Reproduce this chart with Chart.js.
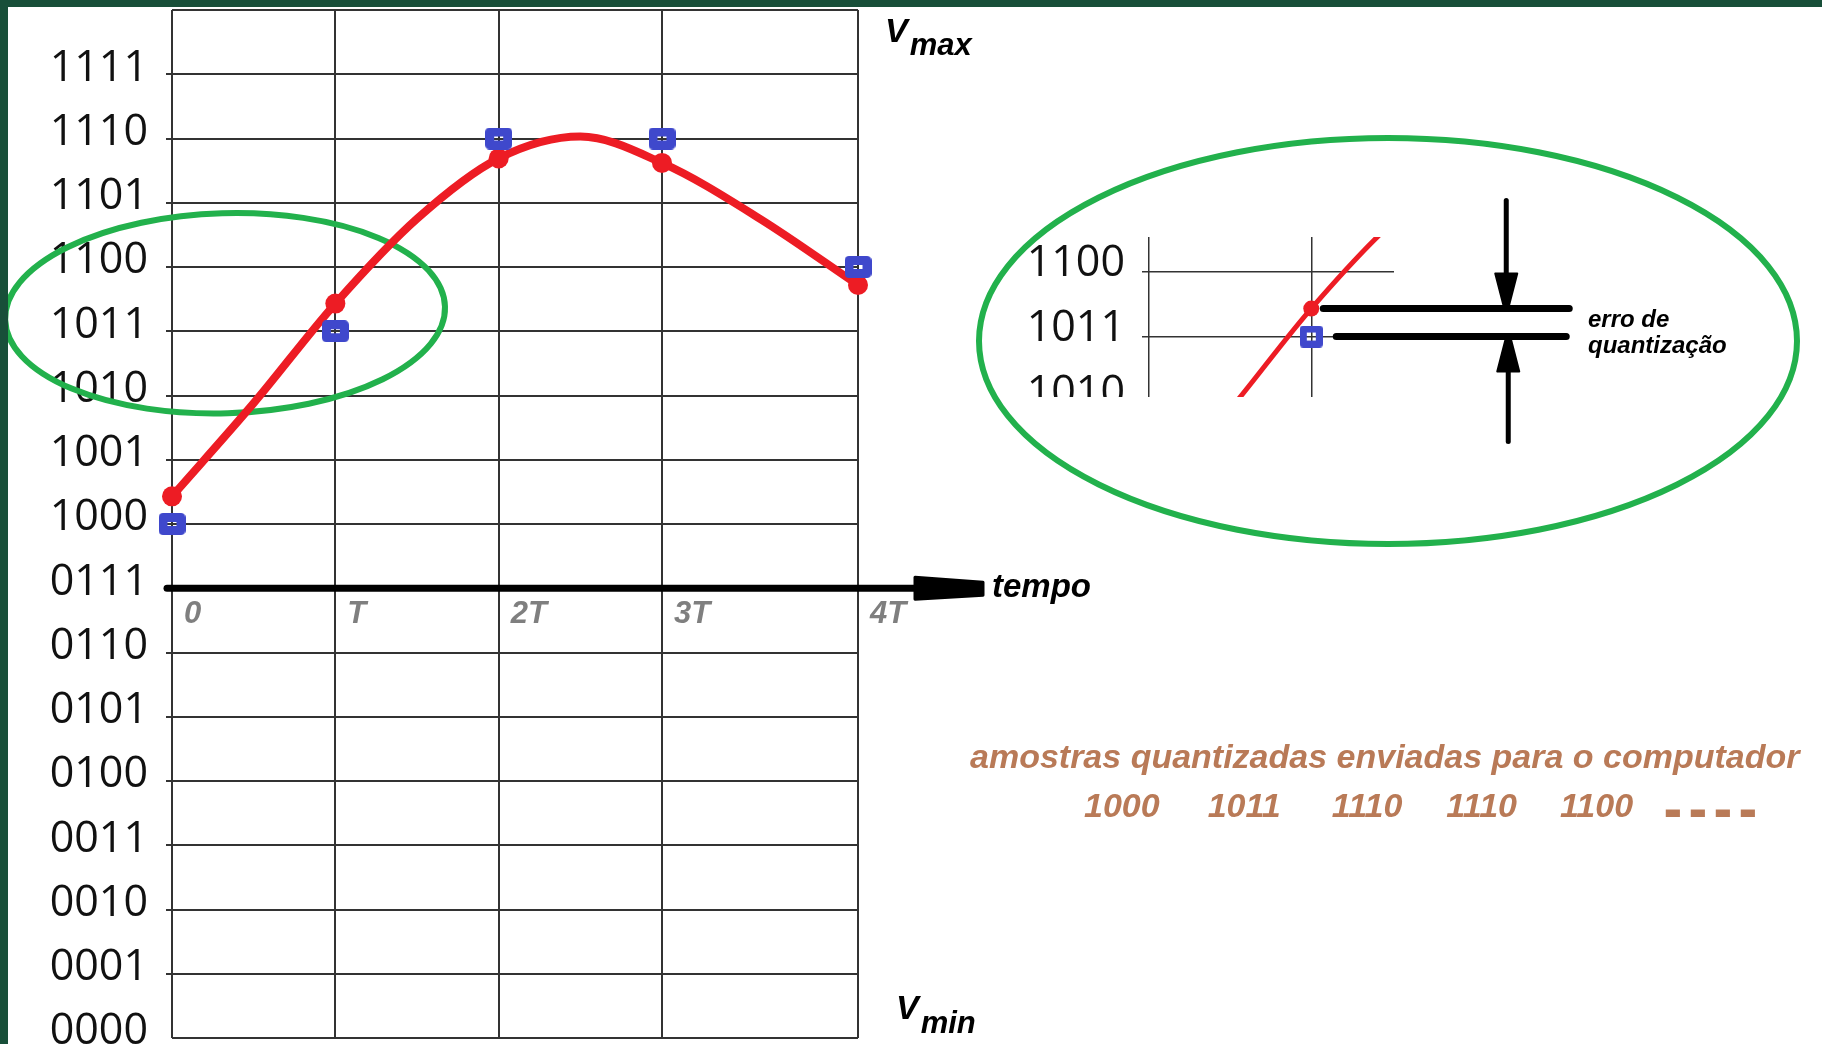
<!DOCTYPE html>
<html lang="pt">
<head>
<meta charset="utf-8">
<title>Quantização de amostras</title>
<script src="https://cdn.jsdelivr.net/npm/chart.js@4.4.1/dist/chart.umd.min.js"></script>
<style>
  html, body { margin: 0; padding: 0; background: #fff; }
  body { width: 1822px; height: 1044px; position: relative; overflow: hidden;
         font-family: 'Liberation Sans', Arial, sans-serif; }
  #principal { position: absolute; left: 0; top: 0; width: 1822px; height: 1044px; }
  #detalhe { position: absolute; left: 975px; top: 130px; width: 835px; height: 420px; }
  .rotulo { position: absolute; font-weight: bold; font-style: italic; line-height: 1; white-space: nowrap; }
  .v { font-size: 34px; color: #000; }
  .indice { font-size: 31px; position: relative; margin-left: 2px; }
  .tempo { font-size: 33px; color: #000; }
  .erro { font-size: 24px; line-height: 26px; color: #000; }
  .saida { font-size: 34px; color: #b97a57; }
  .codigos { font-size: 34px; color: #b97a57; }
  .reticencias { display: inline-block; font-size: 50px; line-height: 20px; font-style: normal;
                 letter-spacing: -1.4px; transform: scaleX(2); transform-origin: left bottom; }
  .moldura { position: absolute; background: #184f39; }
</style>
</head>
<body>
<div id="principal"><canvas id="grafico"></canvas></div>
<div id="detalhe"><canvas id="graficoDetalhe"></canvas></div>

<div class="rotulo v" style="left:885px; top:13px;">V<span class="indice" style="top:13px;">max</span></div>
<div class="rotulo v" style="left:896px; top:990px;">V<span class="indice" style="top:14px;">min</span></div>
<div class="rotulo tempo" style="left:992px; top:569px;">tempo</div>
<div class="rotulo erro" style="left:1588px; top:306px;">erro de<br>quantização</div>
<div class="rotulo saida" style="left:970px; top:739px;">amostras quantizadas enviadas para o computador</div>
<div class="rotulo codigos" id="codigos" style="left:1084px; top:788px;"></div>

<div class="moldura" style="left:0; top:0; width:1822px; height:7px;"></div>
<div class="moldura" style="left:0; top:0; width:8px; height:1044px;"></div>

<script>
// niveis de quantizacao de 4 bits (0000 = Vmin ... 1111)
const niveis = ['0000', '0001', '0010', '0011', '0100', '0101', '0110', '0111',
                '1000', '1001', '1010', '1011', '1100', '1101', '1110', '1111'];

// instantes de amostragem (no desenho a ultima coluna e mais larga)
const instantes = [0, 1, 2, 3, 4.2];
const rotulosTempo = ['0', 'T', '2T', '3T', '4T'];

// valor do sinal em cada amostra e o nivel quantizado
const amostrasReais = [8.43, 11.43, 13.69, 13.62, 11.72];
const amostrasQuantizadas = [8, 11, 14, 14, 12];

const sinalX = [0, 0.5, 1, 1.5, 2, 2.5, 3, 3.6, 4.2];
const sinalY = [8.43, 9.88, 11.43, 12.75, 13.69, 14.03, 13.62, 12.75, 11.72];

const nivelEixoTempo = 7;   // o eixo do tempo passa no nivel 0111

const VERDE = '#22b14c';
const VERMELHO = '#ed1c24';
const AZUL = '#3f48cc';
const CINZA = '#7f7f7f';
const GRADE = '#333333';
const FONTE = "'Liberation Sans', Arial, sans-serif";
const FONTE_NIVEIS = "'Open Sans', 'Liberation Sans', Arial, sans-serif";

// marcador azul (quadrado arredondado vazado)
function marcadorQuantizado(largura, altura, espessura) {
    const c = document.createElement('canvas');
    c.width = largura;
    c.height = altura;
    const ctx = c.getContext('2d');
    const m = espessura / 2;
    ctx.strokeStyle = AZUL;
    ctx.lineWidth = espessura;
    ctx.lineJoin = 'round';
    ctx.strokeRect(m, m, largura - espessura, altura - espessura);
    return c;
}

function pontos(xs, ys) {
    return xs.map((x, i) => ({ x: x, y: ys[i] }));
}

function conjuntos(marcador, raio, espessuraLinha, recorte) {
    return [
        {
            label: 'amostras quantizadas',
            data: pontos(instantes, amostrasQuantizadas),
            showLine: false,
            pointStyle: marcador,
            pointRadius: 12,
            clip: recorte,
            order: 0
        },
        {
            label: 'amostras',
            data: pontos(instantes, amostrasReais),
            showLine: false,
            pointStyle: 'circle',
            pointRadius: raio,
            backgroundColor: VERMELHO,
            borderColor: VERMELHO,
            borderWidth: 0,
            clip: recorte,
            order: 1
        },
        {
            label: 'sinal analógico',
            data: pontos(sinalX, sinalY),
            borderColor: VERMELHO,
            borderWidth: espessuraLinha,
            borderCapStyle: 'round',
            pointRadius: 0,
            cubicInterpolationMode: 'monotone',
            fill: false,
            clip: recorte,
            order: 2
        }
    ];
}

function semMarcaNaBorda(c) {
    if (c.tick && (c.tick.value === 0 || c.tick.value === niveis.length)) return 'rgba(0,0,0,0)';
    return GRADE;
}

// elipse verde, eixo do tempo e seta
const anotacoesPrincipal = {
    id: 'anotacoesPrincipal',
    beforeDatasetsDraw(chart) {
        const { ctx, scales: { x, y } } = chart;
        ctx.save();
        ctx.strokeStyle = VERDE;
        ctx.lineWidth = 6;
        ctx.beginPath();
        ctx.ellipse(x.getPixelForValue(0.325), y.getPixelForValue(11.28), 220, 100, -0.03, 0, Math.PI * 2);
        ctx.stroke();
        ctx.restore();
    },
    afterDatasetsDraw(chart) {
        const { ctx, chartArea, scales: { y } } = chart;
        const ey = y.getPixelForValue(nivelEixoTempo);
        const base = chartArea.right + 57;
        const ponta = chartArea.right + 125;
        ctx.save();
        ctx.strokeStyle = '#000';
        ctx.fillStyle = '#000';
        ctx.lineCap = 'round';
        ctx.lineJoin = 'round';
        ctx.lineWidth = 7;
        ctx.beginPath();
        ctx.moveTo(chartArea.left - 5, ey);
        ctx.lineTo(base + 5, ey);
        ctx.stroke();
        ctx.lineWidth = 3;
        ctx.beginPath();
        ctx.moveTo(base, ey - 11);
        ctx.lineTo(ponta, ey - 6);
        ctx.lineTo(ponta, ey + 7);
        ctx.lineTo(base, ey + 11);
        ctx.closePath();
        ctx.fill();
        ctx.stroke();
        ctx.restore();
    }
};

new Chart(document.getElementById('grafico'), {
    type: 'line',
    data: { datasets: conjuntos(marcadorQuantizado(27, 22, 9), 10, 8, false) },
    options: {
        responsive: true,
        maintainAspectRatio: false,
        animation: false,
        events: [],
        layout: { autoPadding: false, padding: { top: 10, right: 964, bottom: 6, left: 0 } },
        plugins: { legend: { display: false }, tooltip: { enabled: false } },
        scales: {
            x: {
                type: 'linear',
                min: 0,
                max: 4.2,
                position: { y: nivelEixoTempo },
                afterBuildTicks: (s) => { s.ticks = instantes.map(v => ({ value: v })); },
                afterFit: (s) => { s.paddingLeft = 0; s.paddingRight = 0; },
                ticks: {
                    callback: (v, i) => rotulosTempo[i],
                    align: 'start',
                    labelOffset: 12,
                    padding: 8,
                    autoSkip: false,
                    maxRotation: 0,
                    color: CINZA,
                    font: { family: FONTE, size: 31, weight: 'bold', style: 'italic' }
                },
                grid: { color: GRADE, lineWidth: 2, drawTicks: false },
                border: { display: false }
            },
            y: {
                type: 'linear',
                min: 0,
                max: niveis.length,
                position: 'left',
                afterBuildTicks: (s) => {
                    s.ticks = niveis.map((n, i) => ({ value: i })).concat([{ value: niveis.length }]);
                },
                afterFit: (s) => { s.width = 172; s.paddingTop = 0; s.paddingBottom = 0; },
                ticks: {
                    callback: (v) => niveis[v] || '',
                    padding: 18,
                    labelOffset: -6,
                    autoSkip: false,
                    color: '#111',
                    font: { family: FONTE_NIVEIS, size: 43 }
                },
                grid: { color: GRADE, lineWidth: 2, tickLength: 6, tickColor: semMarcaNaBorda },
                border: { display: false }
            }
        }
    },
    plugins: [anotacoesPrincipal]
});

// detalhe ampliado em torno de t = T
const anotacoesDetalhe = {
    id: 'anotacoesDetalhe',
    beforeDraw(chart) {
        const { ctx, chartArea } = chart;
        ctx.save();
        ctx.beginPath();
        ctx.rect(0, 0, chart.width, chartArea.bottom);
        ctx.clip();
    },
    afterDraw(chart) {
        const { ctx, scales: { x, y } } = chart;
        ctx.restore();
        ctx.save();
        ctx.strokeStyle = VERDE;
        ctx.lineWidth = 6;
        ctx.beginPath();
        ctx.ellipse(413, 211, 409, 203, 0, 0, Math.PI * 2);
        ctx.stroke();

        const tx = x.getPixelForValue(instantes[1]);
        const yReal = y.getPixelForValue(amostrasReais[1]);
        const yQuant = y.getPixelForValue(amostrasQuantizadas[1]);
        ctx.strokeStyle = '#000';
        ctx.fillStyle = '#000';
        ctx.lineCap = 'round';
        ctx.lineWidth = 7;
        ctx.beginPath();
        ctx.moveTo(tx + 12, yReal);
        ctx.lineTo(tx + 258, yReal);
        ctx.moveTo(tx + 25, yQuant);
        ctx.lineTo(tx + 255, yQuant);
        ctx.stroke();

        // setas indicando o erro
        const seta = (ax, de, ponta) => {
            const dir = Math.sign(ponta - de);
            ctx.lineWidth = 5;
            ctx.beginPath();
            ctx.moveTo(ax, de);
            ctx.lineTo(ax, ponta - dir * 20);
            ctx.stroke();
            ctx.lineWidth = 2;
            ctx.lineJoin = 'round';
            ctx.beginPath();
            ctx.moveTo(ax - 11, ponta - dir * 31);
            ctx.lineTo(ax + 11, ponta - dir * 31);
            ctx.lineTo(ax + 3, ponta);
            ctx.lineTo(ax - 3, ponta);
            ctx.closePath();
            ctx.fill();
            ctx.stroke();
        };
        seta(tx + 195, yReal - 108, yReal - 4);
        seta(tx + 197, yQuant + 105, yQuant + 4);
        ctx.restore();
    }
};

new Chart(document.getElementById('graficoDetalhe'), {
    type: 'line',
    data: { datasets: conjuntos(marcadorQuantizado(23, 22, 7), 8, 5, 0) },
    options: {
        responsive: true,
        maintainAspectRatio: false,
        animation: false,
        events: [],
        layout: { autoPadding: false, padding: { top: 107, right: 416, bottom: 153, left: 0 } },
        plugins: { legend: { display: false }, tooltip: { enabled: false } },
        scales: {
            x: {
                type: 'linear',
                min: 0,
                max: 1.51,
                afterBuildTicks: (s) => { s.ticks = instantes.slice(0, 2).map(v => ({ value: v })); },
                afterFit: (s) => { s.height = 0; s.paddingLeft = 0; s.paddingRight = 0; },
                ticks: { display: false },
                grid: { color: GRADE, lineWidth: 1.5, drawTicks: false },
                border: { display: false }
            },
            y: {
                type: 'linear',
                min: 10.07,
                max: 12.53,
                afterBuildTicks: (s) => { s.ticks = [10, 11, 12].map(v => ({ value: v })); },
                afterFit: (s) => { s.width = 174; s.paddingTop = 0; s.paddingBottom = 0; },
                ticks: {
                    callback: (v) => niveis[v] || '',
                    padding: 17,
                    labelOffset: -7.5,
                    autoSkip: false,
                    color: '#111',
                    font: { family: FONTE_NIVEIS, size: 43 }
                },
                grid: { color: GRADE, lineWidth: 1.5, tickLength: 7 },
                border: { display: false }
            }
        }
    },
    plugins: [anotacoesDetalhe]
});

// sequencia de codigos enviada ao computador
const espacos = [0, 48, 51, 44, 43];
const caixaCodigos = document.getElementById('codigos');
amostrasQuantizadas.forEach((v, i) => {
    const s = document.createElement('span');
    s.textContent = niveis[v];
    s.style.marginLeft = espacos[i] + 'px';
    caixaCodigos.appendChild(s);
});
const pontinhos = document.createElement('span');
pontinhos.className = 'reticencias';
pontinhos.style.marginLeft = '26px';
pontinhos.textContent = '....';
caixaCodigos.appendChild(pontinhos);
</script>
</body>
</html>
